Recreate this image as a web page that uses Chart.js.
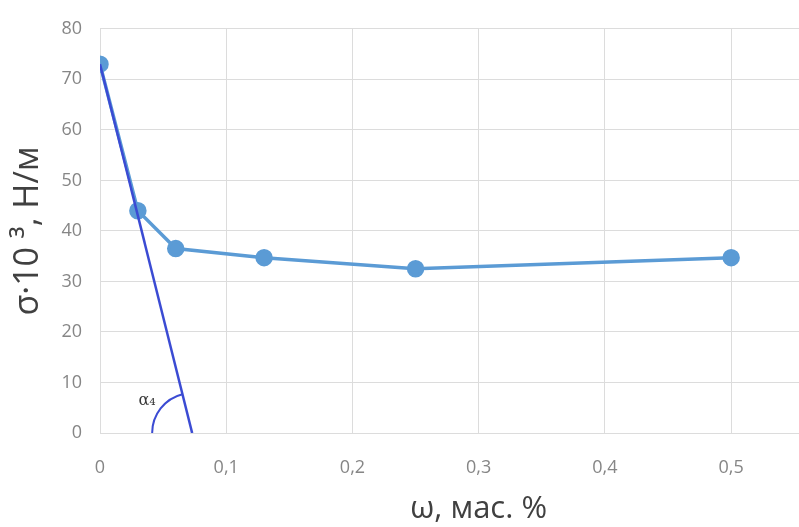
<!DOCTYPE html>
<html>
<head>
<meta charset="utf-8">
<script src="https://cdn.jsdelivr.net/npm/chart.js@4"></script>
<style>
  html, body { margin: 0; padding: 0; background: #fff; overflow: hidden; }
  #wrap { width: 799px; height: 527px; overflow: hidden; position: relative; }
</style>
</head>
<body>
<!-- the reference is cropped on the right, so the canvas is wider than the page -->
<div id="wrap"><canvas id="chart" width="894" height="527"></canvas></div>
<script>
// data
const massFraction = [0, 0.03, 0.06, 0.13, 0.25, 0.5];
const surfaceTension = [73, 44, 36.5, 34.7, 32.5, 34.7];
// tangent at the first point, down to the x axis
const tangentX = [0, 0.073];
const tangentY = [73, 0];
const xTicks = [0, 0.1, 0.2, 0.3, 0.4, 0.5, 0.6];
const yTicks = [0, 10, 20, 30, 40, 50, 60, 70, 80];
const angleLabel = 'α₄';

const colorSeries = '#5b9bd5';
const colorTangent = '#3b4bd3';
const gridColor = '#dcdcdc';
const tickColor = '#868686';
const font = "'Open Sans', sans-serif";

// angle arc where the tangent meets the x axis
const angleArc = {
    id: 'angleArc',
    afterDatasetsDraw(chart) {
        const { ctx, scales: { x, y } } = chart;
        const cx = x.getPixelForValue(tangentX[1]);
        const cy = y.getPixelForValue(tangentY[1]);
        const tx = x.getPixelForValue(tangentX[0]);
        const ty = y.getPixelForValue(tangentY[0]);
        const end = Math.atan2(ty - cy, tx - cx) + Math.PI * 2;
        ctx.save();
        ctx.beginPath();
        ctx.arc(cx, cy, 40, Math.PI, end);
        ctx.strokeStyle = colorTangent;
        ctx.lineWidth = 2;
        ctx.stroke();
        ctx.fillStyle = '#3a3a3a';
        ctx.font = "16px 'DejaVu Serif', serif";
        ctx.textAlign = 'center';
        ctx.textBaseline = 'middle';
        ctx.fillText(angleLabel, cx - 45, cy - 32);
        ctx.restore();
    }
};

new Chart(document.getElementById('chart'), {
    type: 'scatter',
    data: {
        datasets: [
            {
                data: massFraction.map((v, i) => ({ x: v, y: surfaceTension[i] })),
                showLine: true,
                borderColor: colorSeries,
                backgroundColor: colorSeries,
                borderWidth: 3.5,
                pointRadius: 7,
                pointHoverRadius: 7,
                order: 2
            },
            {
                data: tangentX.map((v, i) => ({ x: v, y: tangentY[i] })),
                showLine: true,
                borderColor: colorTangent,
                borderWidth: 2.5,
                pointRadius: 0,
                order: 1
            }
        ]
    },
    options: {
        responsive: false,
        animation: false,
        layout: { padding: { top: 20, right: 0, left: 0, bottom: 0 } },
        plugins: {
            legend: { display: false },
            tooltip: { enabled: false }
        },
        scales: {
            x: {
                type: 'linear',
                min: 0,
                max: 0.6,
                afterBuildTicks: (s) => { s.ticks = xTicks.map(v => ({ value: v })); },
                afterFit: (s) => { s.height = 94; },
                grid: { color: gridColor, drawTicks: false },
                border: { color: gridColor },
                ticks: {
                    color: tickColor,
                    padding: 24,
                    font: { family: font, size: 18 },
                    callback: (v) => String(v).replace('.', ',')
                },
                title: {
                    display: true,
                    text: 'ω, мас. %',
                    color: '#404040',
                    font: { family: font, size: 31, lineHeight: 1 },
                    padding: { top: 0, bottom: 2 }
                }
            },
            y: {
                min: 0,
                max: 80,
                afterBuildTicks: (s) => { s.ticks = yTicks.map(v => ({ value: v })); },
                afterFit: (s) => { s.width = 100; },
                grid: { color: gridColor, drawTicks: false },
                border: { color: gridColor },
                ticks: {
                    color: tickColor,
                    padding: 18,
                    font: { family: font, size: 18 }
                },
                title: {
                    display: true,
                    text: 'σ·10 ³, Н/м',
                    color: '#404040',
                    font: { family: font, size: 34, lineHeight: 1.2 },
                    padding: { top: 8, bottom: 0 }
                }
            }
        }
    },
    plugins: [angleArc]
});
</script>
</body>
</html>
